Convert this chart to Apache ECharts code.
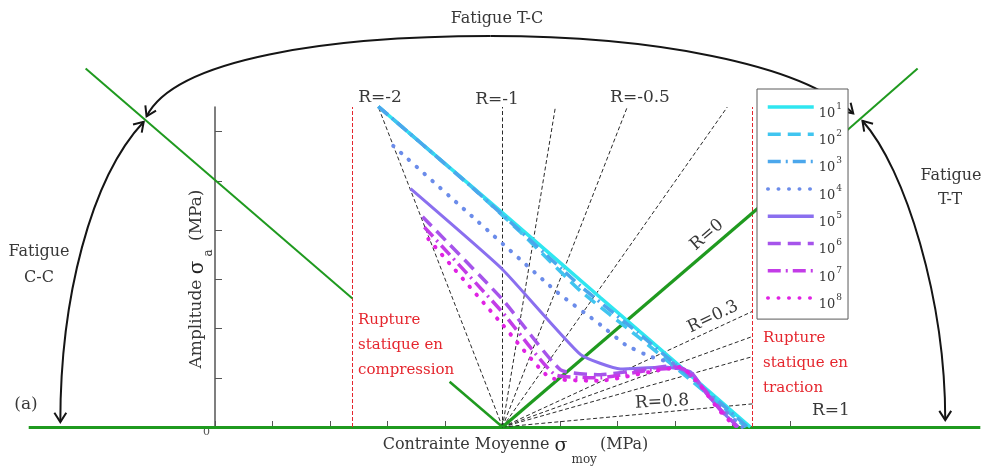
<!DOCTYPE html>
<html>
<head>
<meta charset="utf-8">
<script src="https://cdn.jsdelivr.net/npm/echarts@6/dist/echarts.min.js"></script>
<style>html,body{margin:0;padding:0;background:#fff}#c{width:984px;height:466px}</style>
</head>
<body>
<div id="c"></div>
<script>
// ---- data (units: one axis tick = 1 unit, mean stress 0 at the fan origin) ----
const levels = ['10^1','10^2','10^3','10^4','10^5','10^6','10^7','10^8'];
const n1 = [[-2.16,6.51],[0,4.35],[1.70,2.63],[3.22,1.10],[4.31,0]];
const n2 = [[-2.16,6.51],[-0.56,4.90],[0.31,3.96],[1.36,2.76],[2.35,1.84],[3.10,1.12],[3.79,0.45],[4.23,0]];
const n3 = [[-2.16,6.51],[-0.56,4.90],[0.31,3.98],[1.36,2.86],[2.35,1.92],[3.10,1.18],[3.79,0.49],[4.26,0]];
const n4 = [[-1.90,5.71],[-0.56,4.31],[0.96,2.73],[1.70,2.08],[2.14,1.67],[2.57,1.43],[3.01,1.27],[3.44,0.86],[3.79,0.41],[4.17,0]];
const n5 = [[-1.60,4.84],[0,3.20],[1.36,1.47],[2.05,1.18],[2.83,1.22],[3.27,1.12],[3.53,0.71],[3.79,0.35],[4.09,0]];
const n6 = [[-1.39,4.27],[0,2.59],[1.01,1.16],[1.70,1.06],[2.40,1.16],[2.92,1.24],[3.27,1.12],[3.53,0.71],[3.79,0.35],[4.10,0]];
const n7 = [[-1.36,4.06],[0,2.33],[0.92,1.06],[1.70,1.00],[2.57,1.16],[3.10,1.20],[3.44,0.86],[3.76,0.39],[4.07,0]];
const n8 = [[-1.29,3.82],[0,2.08],[0.83,1.00],[1.70,0.94],[2.57,1.12],[3.10,1.22],[3.44,0.84],[3.76,0.35],[4.05,0]];
const curves = [n1,n2,n3,n4,n5,n6,n7,n8];

const fanOrigin = [0,0];
const rRayEnds = [[-2.16,6.5],[0,6.5],[0.92,6.5],[2.17,6.5],[3.91,6.5],[4.35,2.35],[4.35,1.84],[4.35,1.43],[4.35,0.47]];
const ruptureX = [-2.61, 4.35];
const ruptureTop = 6.5;
const axisGreen = [[-8.24,0],[8.31,0]];
const compOuter = [[-7.25,7.28],[-2.61,2.61]];
const compInner = [[-0.92,0.92],[0,0]];
const r0Thick = [[0,0],[4.6,4.6]];
const r0Thin = [[4.6,4.6],[7.22,7.28]];
// arcs: cubic bezier control points
const arcTC = [[-6.19,6.31],[-5.69,7.49],[-2.99,7.94],[-0.21,7.94],[2.57,7.94],[5.18,7.39],[6.10,6.37]];
const arcCC = [[-6.24,6.20],[-7.17,5.04],[-7.69,2.59],[-7.69,0.10]];
const arcTT = [[6.26,6.22],[7.01,5.24],[7.70,2.59],[7.70,0.14]];
const arcs = [arcTC, arcCC, arcTT];

// ---- styles ----
const FONT = 'DejaVu Serif';
const TXT = '#383838';
const GREEN = '#1f9a1f';
const RED = '#e5262e';
const colors = ['#2fe6f0','#40c5f0','#4ba7ec','#6b8cea','#8a6fef','#a654eb','#c33ce7','#e022e3'];
const dashes = ['solid',[13,7],[13,5,2,5],[0.5,10],'solid',[13,7],[13,5,2,5],[0.5,10]];
const widths = [3.5,3.5,3.5,4,3,3.5,3.5,4];

function segSeries(name, segs, color, width, type, z) {
  return {type:'lines', coordinateSystem:'cartesian2d', name, silent:true, clip:false, z,
    data: segs.map(s => ({coords: s})),
    lineStyle:{color, width, type, opacity:1}};
}

function renderArc(params, api) {
  const pts = arcs[params.dataIndex].map(p => api.coord(p));
  const st = {fill:null, stroke:'#151515', lineWidth:2};
  const children = [];
  for (let i = 0; i + 3 < pts.length; i += 3) {
    children.push({type:'bezierCurve', shape:{x1:pts[i][0],y1:pts[i][1],cpx1:pts[i+1][0],cpy1:pts[i+1][1],cpx2:pts[i+2][0],cpy2:pts[i+2][1],x2:pts[i+3][0],y2:pts[i+3][1]}, style:st});
  }
  const head = (tip, from) => {
    const dx = tip[0]-from[0], dy = tip[1]-from[1], L = Math.hypot(dx,dy);
    const ux = dx/L, uy = dy/L, a = Math.PI/5.5, s = 11, c = Math.cos(a), sn = Math.sin(a);
    const p1 = [tip[0]-s*(ux*c - uy*sn), tip[1]-s*(uy*c + ux*sn)];
    const p2 = [tip[0]-s*(ux*c + uy*sn), tip[1]-s*(uy*c - ux*sn)];
    return {type:'polyline', shape:{points:[p1,tip,p2]}, style:st};
  };
  children.push(head(pts[0], pts[1]));
  children.push(head(pts[pts.length-1], pts[pts.length-2]));
  return {type:'group', children};
}

const curveSeries = curves.map((d,i) => ({
  type:'line', name: levels[i], data: d, symbol:'none', showSymbol:false, smooth:0.15, clip:false, z:3,
  silent:true, animation:false,
  lineStyle:{color:colors[i], width:widths[i], type:dashes[i], cap: (i===3||i===7)?'round':'butt'},
  itemStyle:{color:colors[i]}
}));

const t = (text, x, y, extra) => Object.assign({type:'text', x, y, z:10, style:Object.assign({text, font:`16px "${FONT}"`, fill:TXT, align:'center', verticalAlign:'middle'}, extra||{})});

const nameRich = {
  t:{fontFamily:FONT, fontSize:17, fill:TXT, lineHeight:20, verticalAlign:'top'},
  g:{fontFamily:FONT, fontSize:20, fill:'#222', lineHeight:20, verticalAlign:'top', padding:[0,4,0,0]},
  sub:{fontFamily:FONT, fontSize:12, fill:TXT, lineHeight:12, verticalAlign:'top', padding:[15,3,0,0]}
};

const option = {
  animation:false,
  backgroundColor:'#fff',
  grid:{left:215, right:194, top:107, bottom:39, containLabel:false, outerBoundsMode:'none'},
  xAxis:{type:'value', min:-5, max:5, interval:1,
    axisLine:{show:false, onZero:false}, splitLine:{show:false}, axisLabel:{show:false},
    axisTick:{show:true, inside:true, length:6, lineStyle:{color:'#555', width:1}},
    name:'{t|Contrainte Moyenne }{g|σ}{sub|moy}{t|(MPa)}', nameLocation:'middle', nameGap:10,
    nameTextStyle:{padding:[0,0,0,26], rich:{
      t:{fontFamily:FONT, fontSize:16, color:TXT, lineHeight:20, verticalAlign:'top'},
      g:{fontFamily:FONT, fontSize:19, color:'#222', lineHeight:20, verticalAlign:'top', padding:[0,4,0,0]},
      sub:{fontFamily:FONT, fontSize:12, color:TXT, lineHeight:12, verticalAlign:'top', padding:[17,3,0,0]}}}
  },
  yAxis:{type:'value', min:0, max:6.5, interval:1,
    axisLine:{show:true, onZero:false, lineStyle:{color:'#555', width:1.5}}, splitLine:{show:false},
    axisTick:{show:true, inside:true, length:7, lineStyle:{color:'#555', width:1}, customValues:[0,1,2,3,4,5,6]},
    axisLabel:{show:true, customValues:[0], formatter: v => String(v), verticalAlign:'top', margin:5, fontFamily:FONT, fontSize:11, color:'#555'}
  },
  legend:{data:levels, orient:'vertical', left:757, top:89, padding:[11,6,8,9], itemWidth:46, itemHeight:14, itemGap:7.3,
    selectedMode:false, backgroundColor:'#fff', borderColor:'#5a5a5a', borderWidth:1, borderRadius:0,
    lineStyle:{width:3.5}, itemStyle:{opacity:0},
    formatter: name => { const p = name.split('^'); return `{b|${p[0]}}{s|${p[1]}}`; },
    textStyle:{color:TXT, fontFamily:FONT, fontSize:13, rich:{
      b:{fontFamily:FONT, fontSize:13, color:TXT, lineHeight:14, verticalAlign:'top', padding:[7,0,0,0]},
      s:{fontFamily:FONT, fontSize:9, color:TXT, lineHeight:10, verticalAlign:'top', padding:[2,0,0,1]}}}
  },
  series:[
    segSeries('axis', [axisGreen], GREEN, 3, 'solid', 1),
    segSeries('rRays', rRayEnds.map(e => [fanOrigin, e]), '#2a2a2a', 1, [4,2.5], 1),
    segSeries('rupture', ruptureX.map(x => [[x,0],[x,ruptureTop]]), RED, 1, [4,2], 1),
    segSeries('compOuter', [compOuter], GREEN, 2, 'solid', 1),
    segSeries('compInner', [compInner], GREEN, 2.5, 'solid', 1),
    segSeries('r0Thin', [r0Thin], GREEN, 2, 'solid', 1),
    segSeries('r0Thick', [r0Thick], GREEN, 3.2, 'solid', 2),
    {type:'custom', name:'arcs', coordinateSystem:'cartesian2d', renderItem:renderArc, data:[[0,0],[0,0],[0,0]], clip:false, silent:true, z:2},
    ...curveSeries
  ],
  graphic:[
    {type:'text', x:198, y:279, rotation:Math.PI/2, z:10, style:{text:'{t|Amplitude }{g|σ}{sub|a}{t| (MPa)}', rich:nameRich, align:'center', verticalAlign:'middle'}},
    t('Fatigue T-C', 497, 19),
    t('Fatigue', 39, 252), t('C-C', 39, 278),
    t('Fatigue', 951, 176), t('T-T', 950, 200),
    t('(a)', 26, 405, {font:`17px "${FONT}"`}),
    t('R=-2', 380, 98, {font:`17px "${FONT}"`}),
    t('R=-1', 497, 100, {font:`17px "${FONT}"`}),
    t('R=-0.5', 640, 98, {font:`17px "${FONT}"`}),
    {type:'text', x:707, y:235, rotation:0.71, z:10, style:{text:'R=0', font:`17px "${FONT}"`, fill:TXT, align:'center', verticalAlign:'middle'}},
    {type:'text', x:713, y:317, rotation:0.45, z:10, style:{text:'R=0.3', font:`17px "${FONT}"`, fill:TXT, align:'center', verticalAlign:'middle'}},
    {type:'text', x:662, y:402, rotation:0.05, z:10, style:{text:'R=0.8', font:`17px "${FONT}"`, fill:TXT, align:'center', verticalAlign:'middle'}},
    t('R=1', 831, 411, {font:`17px "${FONT}"`}),
    {type:'text', x:358, y:308, z:10, style:{text:'Rupture\nstatique en\ncompression', font:`15px "${FONT}"`, fill:RED, align:'left', verticalAlign:'top', lineHeight:25}},
    {type:'text', x:763, y:326, z:10, style:{text:'Rupture\nstatique en\ntraction', font:`15px "${FONT}"`, fill:RED, align:'left', verticalAlign:'top', lineHeight:25}}
  ]
};
const chart = echarts.init(document.getElementById('c'));
chart.setOption(option);
</script>
</body>
</html>
